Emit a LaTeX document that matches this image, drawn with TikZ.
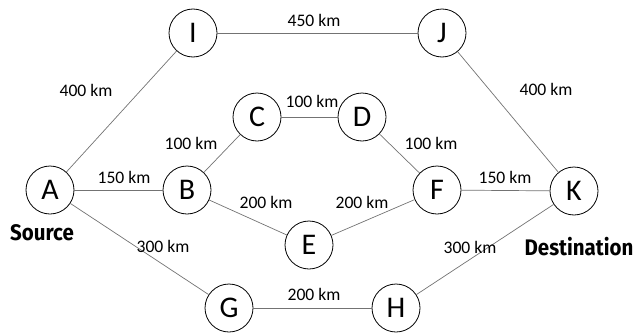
\documentclass[tikz,border=0pt]{standalone}
\usepackage{fontspec}
\setmainfont{Carlito}
\newfontfamily\headfont[FakeStretch=0.91]{Fira Sans}
\begin{document}
\begin{tikzpicture}[x=1pt,y=-1pt,
    city/.style={circle, draw, line width=0.8pt, minimum size=48pt, inner sep=0pt,
        font=\fontsize{30}{30}\selectfont},
    road/.style={draw=black!55, line width=0.7pt},
    dist/.style={inner sep=0pt, font=\fontsize{17.6}{18}\selectfont},
    tag/.style={inner sep=0pt, font=\headfont\bfseries\fontsize{22.5}{23}\selectfont}]
    \useasboundingbox (0,0) rectangle (639,332);

    % cities
    \node[city] (A) at (50,190)  {A};
    \node[city] (B) at (187,190) {B};
    \node[city] (C) at (257,117) {C};
    \node[city] (D) at (362,117) {D};
    \node[city] (E) at (309,245) {E};
    \node[city] (F) at (437,190) {F};
    \node[city] (G) at (229,308) {G};
    \node[city] (H) at (396,308) {H};
    \node[city] (I) at (193,33)  {I};
    \node[city] (J) at (442,33)  {J};
    \node[city] (K) at (574,191) {K};

    % roads
    \draw[road] (A) -- (I);
    \draw[road] (I) -- (J);
    \draw[road] (J) -- (K);
    \draw[road] (A) -- (B);
    \draw[road] (B) -- (C);
    \draw[road] (C) -- (D);
    \draw[road] (D) -- (F);
    \draw[road] (B) -- (E);
    \draw[road] (E) -- (F);
    \draw[road] (F) -- (K);
    \draw[road] (A) -- (G);
    \draw[road] (G) -- (H);
    \draw[road] (H) -- (K);

    % distances
    \node[dist] (dAI) at (86,90)   {400 km};
    \node[dist] (dIJ) at (314,20)  {450 km};
    \node[dist] (dJK) at (546,89)  {400 km};
    \node[dist] (dAB) at (124,177) {150 km};
    \node[dist] (dBC) at (191,143) {100 km};
    \node[dist] (dCD) at (312,101) {100 km};
    \node[dist] (dDF) at (431,143) {100 km};
    \node[dist] (dBE) at (266,202) {200 km};
    \node[dist] (dEF) at (362,202) {200 km};
    \node[dist] (dFK) at (505,177) {150 km};
    \node[dist] (dAG) at (163,246) {300 km};
    \node[dist] (dGH) at (314,294) {200 km};
    \node[dist] (dHK) at (470,247) {300 km};

    \node[tag] (src) at (42,233)  {Source};
    \node[tag] (dst) at (579,247) {Destination};
\end{tikzpicture}
\end{document}
